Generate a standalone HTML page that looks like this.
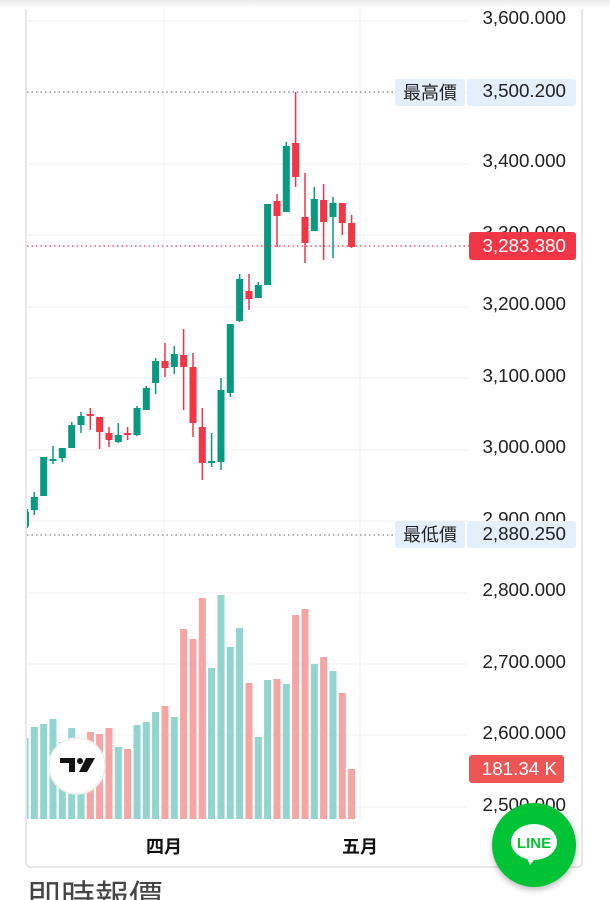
<!DOCTYPE html>
<html><head><meta charset="utf-8"><style>
html,body{margin:0;padding:0;background:#fff;width:610px;height:900px;overflow:hidden}
svg{display:block}
text{font-family:"Liberation Sans","Noto Sans CJK TC",sans-serif}
</style></head><body>
<svg width="610" height="900" viewBox="0 0 610 900" xmlns="http://www.w3.org/2000/svg">
<defs>
<clipPath id="c"><rect x="27" y="0" width="440" height="820"/></clipPath>
<linearGradient id="sh" x1="0" y1="0" x2="0" y2="1"><stop offset="0" stop-color="#ececec"/><stop offset="1" stop-color="#fff"/></linearGradient>
<filter id="ds" x="-30%" y="-30%" width="160%" height="160%"><feDropShadow dx="0" dy="3" stdDeviation="3" flood-color="#000" flood-opacity="0.25"/></filter>
</defs>
<rect x="26" y="-5" width="556" height="872" rx="4" fill="#fff" stroke="#e0e0e0" stroke-width="1.5"/>
<rect x="0" y="0" width="610" height="9" fill="url(#sh)"/>
<g stroke="#f0f0f0" stroke-width="1">
<line x1="27" y1="21" x2="467" y2="21"/><line x1="27" y1="93" x2="467" y2="93"/><line x1="27" y1="164" x2="467" y2="164"/><line x1="27" y1="235" x2="467" y2="235"/><line x1="27" y1="307" x2="467" y2="307"/><line x1="27" y1="378" x2="467" y2="378"/><line x1="27" y1="450" x2="467" y2="450"/><line x1="27" y1="521" x2="467" y2="521"/><line x1="27" y1="593" x2="467" y2="593"/><line x1="27" y1="664" x2="467" y2="664"/><line x1="27" y1="735" x2="467" y2="735"/><line x1="27" y1="807" x2="467" y2="807"/>
<line x1="164" y1="8" x2="164" y2="820"/><line x1="360" y1="8" x2="360" y2="820"/>
</g>
<g clip-path="url(#c)">
<g fill="#92d5ce">
<rect x="21.5" y="738" width="7" height="81"/><rect x="30.8" y="727" width="7" height="92"/><rect x="40.2" y="724" width="7" height="95"/><rect x="49.5" y="719" width="7" height="100"/><rect x="58.8" y="742" width="7" height="77"/><rect x="68.2" y="728" width="7" height="91"/><rect x="77.5" y="745" width="7" height="74"/>
<rect x="114.8" y="747" width="7" height="72"/><rect x="133.5" y="725" width="7" height="94"/><rect x="142.8" y="722" width="7" height="97"/><rect x="152.1" y="712" width="7" height="107"/><rect x="170.8" y="717" width="7" height="102"/>
<rect x="208.1" y="668" width="7" height="151"/><rect x="217.5" y="595" width="7" height="224"/><rect x="226.8" y="647" width="7" height="172"/><rect x="236.1" y="628" width="7" height="191"/><rect x="254.8" y="737" width="7" height="82"/><rect x="264.1" y="680" width="7" height="139"/><rect x="282.8" y="684" width="7" height="135"/><rect x="310.8" y="664" width="7" height="155"/><rect x="329.5" y="671" width="7" height="148"/>
</g>
<g fill="#f5a5a3">
<rect x="86.8" y="732" width="7" height="87"/><rect x="96.1" y="734" width="7" height="85"/><rect x="105.5" y="728" width="7" height="91"/><rect x="124.1" y="749" width="7" height="70"/><rect x="161.5" y="706" width="7" height="113"/>
<rect x="180.1" y="629" width="7" height="190"/><rect x="189.5" y="639" width="7" height="180"/><rect x="198.8" y="598" width="7" height="221"/><rect x="245.5" y="683" width="7" height="136"/><rect x="273.5" y="679" width="7" height="140"/><rect x="292.1" y="615" width="7" height="204"/><rect x="301.5" y="609" width="7" height="210"/><rect x="320.1" y="657" width="7" height="162"/><rect x="338.8" y="693" width="7" height="126"/><rect x="348.1" y="769" width="7" height="50"/>
</g>
<g stroke="#089981" stroke-width="1.5">
<line x1="27.5" y1="509" x2="27.5" y2="528"/><line x1="34.3" y1="492" x2="34.3" y2="515"/><line x1="43.7" y1="457" x2="43.7" y2="496"/><line x1="53" y1="446" x2="53" y2="464"/><line x1="62.3" y1="448" x2="62.3" y2="462"/><line x1="71.7" y1="422" x2="71.7" y2="448"/><line x1="81" y1="412" x2="81" y2="433"/><line x1="118.3" y1="423" x2="118.3" y2="443"/><line x1="137" y1="406" x2="137" y2="436"/><line x1="146.3" y1="386" x2="146.3" y2="410"/><line x1="155.6" y1="358" x2="155.6" y2="394"/><line x1="174.3" y1="346" x2="174.3" y2="374"/><line x1="211.6" y1="433" x2="211.6" y2="467"/><line x1="221" y1="378" x2="221" y2="470"/><line x1="230.3" y1="324" x2="230.3" y2="397"/><line x1="239.6" y1="274" x2="239.6" y2="322"/><line x1="258.3" y1="282" x2="258.3" y2="298"/><line x1="267.6" y1="204" x2="267.6" y2="285"/><line x1="286.3" y1="142" x2="286.3" y2="212"/><line x1="314.3" y1="187" x2="314.3" y2="231"/><line x1="333" y1="197" x2="333" y2="258"/>
</g>
<g fill="#089981">
<rect x="26" y="512" width="3" height="14"/><rect x="30.8" y="497" width="7" height="13"/><rect x="40.2" y="457" width="7" height="39"/><rect x="49.5" y="459" width="7" height="2"/><rect x="58.8" y="448" width="7" height="10"/><rect x="68.2" y="425" width="7" height="23"/><rect x="77.5" y="416" width="7" height="9"/><rect x="114.8" y="435" width="7" height="7"/><rect x="133.5" y="408" width="7" height="27"/><rect x="142.8" y="388" width="7" height="22"/><rect x="152.1" y="361" width="7" height="22"/><rect x="170.8" y="354" width="7" height="13"/><rect x="208.1" y="461" width="7" height="2"/><rect x="217.5" y="390" width="7" height="72"/><rect x="226.8" y="324" width="7" height="69"/><rect x="236.1" y="279" width="7" height="42"/><rect x="254.8" y="285" width="7" height="13"/><rect x="264.1" y="204" width="7" height="81"/><rect x="282.8" y="146" width="7" height="66"/><rect x="310.8" y="199" width="7" height="32"/><rect x="329.5" y="203" width="7" height="14"/>
</g>
<g stroke="#f23645" stroke-width="1.5">
<line x1="90.3" y1="408" x2="90.3" y2="430"/><line x1="99.6" y1="417" x2="99.6" y2="449"/><line x1="109" y1="427" x2="109" y2="447"/><line x1="127.6" y1="427" x2="127.6" y2="440"/><line x1="165" y1="343" x2="165" y2="377"/><line x1="183.6" y1="329" x2="183.6" y2="410"/><line x1="193" y1="353" x2="193" y2="437"/><line x1="202.3" y1="408" x2="202.3" y2="480"/><line x1="249" y1="274" x2="249" y2="310"/><line x1="277" y1="194" x2="277" y2="247"/><line x1="295.6" y1="92" x2="295.6" y2="187"/><line x1="305" y1="173" x2="305" y2="263"/><line x1="323.6" y1="184" x2="323.6" y2="260"/><line x1="342.3" y1="203" x2="342.3" y2="235"/><line x1="351.6" y1="215" x2="351.6" y2="248"/>
</g>
<g fill="#f23645">
<rect x="86.8" y="414" width="7" height="2"/><rect x="96.1" y="417" width="7" height="15"/><rect x="105.5" y="433" width="7" height="7"/><rect x="124.1" y="433" width="7" height="2"/><rect x="161.5" y="361" width="7" height="7"/><rect x="180.1" y="355" width="7" height="12"/><rect x="189.5" y="367" width="7" height="56"/><rect x="198.8" y="427" width="7" height="36"/><rect x="245.5" y="291" width="7" height="8"/><rect x="273.5" y="201" width="7" height="15"/><rect x="292.1" y="143" width="7" height="34"/><rect x="301.5" y="217" width="7" height="26"/><rect x="320.1" y="200" width="7" height="22"/><rect x="338.8" y="203" width="7" height="20"/><rect x="348.1" y="223" width="7" height="24"/>
</g>
</g>
<line x1="27" y1="92" x2="395" y2="92" stroke="#888" stroke-width="1.2" stroke-dasharray="1.5 3"/>
<line x1="27" y1="535" x2="395" y2="535" stroke="#888" stroke-width="1.2" stroke-dasharray="1.5 3"/>
<line x1="27" y1="246" x2="469" y2="246" stroke="#f23645" stroke-width="1.2" stroke-dasharray="1.5 3"/>
<g font-size="18.8" fill="#222" text-anchor="end">
<text x="566" y="24">3,600.000</text>
<text x="566" y="167">3,400.000</text>
<text x="566" y="239">3,300.000</text>
<text x="566" y="310">3,200.000</text>
<text x="566" y="382">3,100.000</text>
<text x="566" y="453">3,000.000</text>
<text x="566" y="525">2,900.000</text>
<text x="566" y="596">2,800.000</text>
<text x="566" y="668">2,700.000</text>
<text x="566" y="739">2,600.000</text>
<text x="566" y="811">2,500.000</text>
</g>
<rect x="395" y="79" width="70" height="27" rx="3" fill="#e3effb"/>
<rect x="467" y="79" width="109" height="27" rx="3" fill="#e3effb"/>
<text x="430" y="99" font-size="18" fill="#222" text-anchor="middle">最高價</text>
<text x="566" y="97" font-size="18.8" fill="#222" text-anchor="end">3,500.200</text>
<rect x="395" y="521" width="70" height="27" rx="3" fill="#e3effb"/>
<rect x="467" y="521" width="109" height="27" rx="3" fill="#e3effb"/>
<text x="430" y="541" font-size="18" fill="#222" text-anchor="middle">最低價</text>
<text x="566" y="540" font-size="18.8" fill="#222" text-anchor="end">2,880.250</text>
<rect x="469" y="232" width="107" height="28" rx="3" fill="#f23645"/>
<text x="566" y="252" font-size="18.8" fill="#fff" text-anchor="end">3,283.380</text>
<rect x="469" y="755" width="95" height="28" rx="3" fill="#ee5555"/>
<text x="557" y="775" font-size="18.8" fill="#fff" text-anchor="end">181.34 K</text>
<text x="164" y="853" font-size="18" font-weight="bold" fill="#111" text-anchor="middle">四月</text>
<text x="360" y="853" font-size="18" font-weight="bold" fill="#111" text-anchor="middle">五月</text>
<circle cx="77" cy="766" r="28" fill="#fff" stroke="#eee" stroke-width="1.5"/>
<path d="M60 758 h15 v14 h-6 v-9 h-9z" fill="#131313"/>
<circle cx="80" cy="761" r="3" fill="#131313"/>
<path d="M86 758 h9 l-8 14 h-8 z" fill="#131313"/>
<circle cx="534" cy="845" r="42" fill="#06c334" filter="url(#ds)"/>
<ellipse cx="534" cy="842" rx="23" ry="18" fill="#fff"/>
<path d="M526 856 l4 9 l8 -10z" fill="#fff"/>
<text x="534" y="848" font-size="15" font-weight="bold" fill="#06c334" text-anchor="middle">LINE</text>
<text x="27" y="909" font-size="34" fill="#444">即時報價</text>
</svg>
</body></html>
